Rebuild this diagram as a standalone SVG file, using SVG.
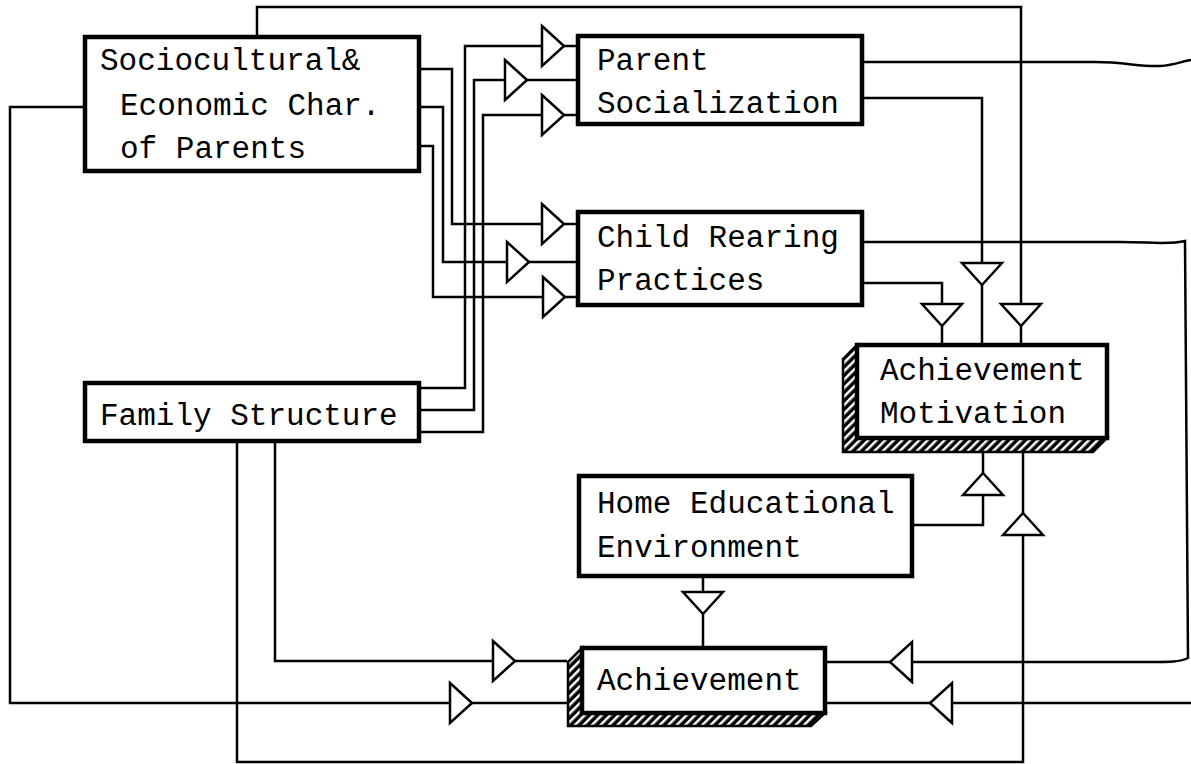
<svg xmlns="http://www.w3.org/2000/svg" xmlns:xlink="http://www.w3.org/1999/xlink" width="1191" height="764" viewBox="0 0 1191 764">
<style>
.box{fill:#fff;stroke:#000;stroke-width:4.5}
.ln{fill:none;stroke:#000;stroke-width:2.5;stroke-linejoin:miter}
.arr{fill:#fff;stroke:#000;stroke-width:2.5;stroke-linejoin:miter}
.sh{fill:url(#hatch);stroke:#000;stroke-width:2.5}
.t{font-family:"Liberation Mono","Courier New",monospace;font-size:31px;fill:#000}
</style>
<defs>
<pattern id="hatch" width="6" height="6" patternUnits="userSpaceOnUse" patternTransform="rotate(45)">
<rect width="6" height="6" fill="#000"/><rect width="2.5" height="6" fill="#fff"/>
</pattern>
<polygon id="tr" class="arr" points="0,-20 22,0 0,20"/>
</defs>
<rect width="1191" height="764" fill="#fff"/>
<g id="connectors">
<path class="ln" d="M257,36 V7 H1021 V345"/>
<path class="ln" d="M418,69 H452 V224 H577"/>
<path class="ln" d="M418,107 H443 V262 H577"/>
<path class="ln" d="M418,146 H433 V297 H577"/>
<path class="ln" d="M418,388 H465 V46 H577"/>
<path class="ln" d="M418,410 H474 V80 H577"/>
<path class="ln" d="M418,432 H483 V115 H577"/>
<path class="ln" d="M862,62 H1095 C1125,62 1140,67 1160,66 C1175,65 1183,61 1191,60"/>
<path class="ln" d="M862,98 H982 V345"/>
<path class="ln" d="M862,242 H1120 C1150,242 1170,245 1185,241 L1188,658 C1180,662 1170,662 1150,662 H825"/>
<path class="ln" d="M862,283 H942 V345"/>
<path class="ln" d="M912,525 H983 V452"/>
<path class="ln" d="M237,441 V762 H1023 V452"/>
<path class="ln" d="M1191,703 H825"/>
<path class="ln" d="M703,575 V648"/>
<path class="ln" d="M275,441 V661 H567"/>
<path class="ln" d="M85,107 H10 V703 H567"/>
<use xlink:href="#tr" x="542" y="46"/>
<use xlink:href="#tr" x="505" y="80"/>
<use xlink:href="#tr" x="542" y="115"/>
<use xlink:href="#tr" x="542" y="224"/>
<use xlink:href="#tr" x="507" y="262"/>
<use xlink:href="#tr" x="543" y="297"/>
<use xlink:href="#tr" x="493" y="661"/>
<use xlink:href="#tr" x="450" y="703"/>
<use xlink:href="#tr" transform="translate(912,662) rotate(180)"/>
<use xlink:href="#tr" transform="translate(952,703) rotate(180)"/>
<use xlink:href="#tr" transform="translate(982,263) rotate(90)"/>
<use xlink:href="#tr" transform="translate(942,304) rotate(90)"/>
<use xlink:href="#tr" transform="translate(1021,304) rotate(90)"/>
<use xlink:href="#tr" transform="translate(703,592) rotate(90)"/>
<use xlink:href="#tr" transform="translate(983,495) rotate(-90)"/>
<use xlink:href="#tr" transform="translate(1023,535) rotate(-90)"/>
</g>
<g id="socio">
<rect class="box" x="85" y="37" width="334" height="134"/>
<text class="t" x="100" y="70">Sociocultural&amp;</text>
<text class="t" x="120" y="115">Economic Char.</text>
<text class="t" x="120" y="158">of Parents</text>
</g>
<g id="parent-socialization">
<rect class="box" x="578" y="36" width="284" height="88"/>
<text class="t" x="597" y="70">Parent</text>
<text class="t" x="597" y="113">Socialization</text>
</g>
<g id="child-rearing">
<rect class="box" x="578" y="212" width="284" height="93"/>
<text class="t" x="597" y="247">Child Rearing</text>
<text class="t" x="597" y="290">Practices</text>
</g>
<g id="family-structure">
<rect class="box" x="85" y="383" width="334" height="58"/>
<text class="t" x="100" y="425">Family Structure</text>
</g>
<g id="achievement-motivation">
<polygon class="sh" points="857,345 843,359 843,452 1093,452 1107,438 857,438"/>
<rect class="box" x="857" y="345" width="250" height="93"/>
<text class="t" x="880" y="380">Achievement</text>
<text class="t" x="880" y="423">Motivation</text>
</g>
<g id="home-educational">
<rect class="box" x="579" y="476" width="333" height="100"/>
<text class="t" x="597" y="513">Home Educational</text>
<text class="t" x="597" y="557">Environment</text>
</g>
<g id="achievement">
<polygon class="sh" points="582,648 568,662 568,726 811,726 825,713 582,713"/>
<rect class="box" x="582" y="648" width="243" height="65"/>
<text class="t" x="597" y="690">Achievement</text>
</g>
</svg>
